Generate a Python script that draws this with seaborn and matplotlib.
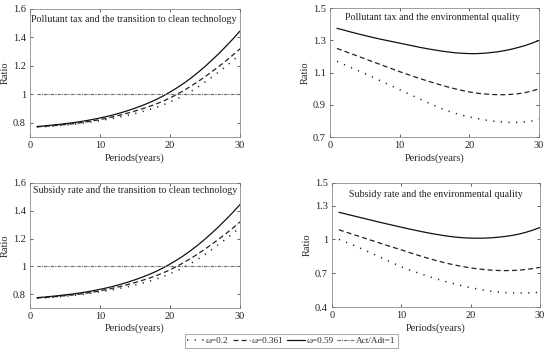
import numpy as np
import pandas as pd
import matplotlib
matplotlib.use("Agg")
import matplotlib.pyplot as plt
import seaborn as sns
from matplotlib.lines import Line2D

years = list(range(1, 31))

# Pollutant tax and the transition to clean technology
tax_tech_w059 = [0.774, 0.778, 0.783, 0.788, 0.794, 0.800, 0.807, 0.815, 0.824, 0.834,
                 0.845, 0.857, 0.871, 0.886, 0.903, 0.921, 0.941, 0.963, 0.988, 1.016,
                 1.046, 1.079, 1.115, 1.154, 1.196, 1.241, 1.288, 1.338, 1.390, 1.445]
tax_tech_w0361 = [0.772, 0.775, 0.779, 0.783, 0.788, 0.793, 0.799, 0.806, 0.814, 0.823,
                  0.833, 0.844, 0.856, 0.869, 0.883, 0.898, 0.914, 0.932, 0.952, 0.975,
                  1.000, 1.028, 1.058, 1.090, 1.124, 1.160, 1.197, 1.236, 1.277, 1.320]
tax_tech_w02 = [0.770, 0.773, 0.776, 0.780, 0.784, 0.789, 0.795, 0.801, 0.808, 0.816,
                0.824, 0.833, 0.843, 0.853, 0.865, 0.878, 0.892, 0.908, 0.926, 0.946,
                0.968, 0.993, 1.021, 1.052, 1.086, 1.122, 1.159, 1.198, 1.238, 1.280]

# Pollutant tax and the environmental quality
tax_env_w059 = [1.375, 1.364, 1.352, 1.341, 1.330, 1.320, 1.310, 1.301, 1.292, 1.283,
                1.274, 1.265, 1.256, 1.248, 1.241, 1.234, 1.228, 1.223, 1.220, 1.218,
                1.218, 1.220, 1.224, 1.229, 1.236, 1.245, 1.256, 1.268, 1.283, 1.300]
tax_env_w0361 = [1.250, 1.234, 1.218, 1.202, 1.186, 1.170, 1.154, 1.138, 1.122, 1.106,
                 1.091, 1.076, 1.062, 1.048, 1.035, 1.022, 1.010, 0.999, 0.989, 0.980,
                 0.973, 0.968, 0.965, 0.963, 0.963, 0.965, 0.969, 0.976, 0.986, 1.000]
tax_env_w02 = [1.170, 1.151, 1.132, 1.113, 1.094, 1.074, 1.054, 1.034, 1.014, 0.994,
               0.974, 0.954, 0.934, 0.914, 0.895, 0.877, 0.861, 0.847, 0.835, 0.825,
               0.816, 0.808, 0.801, 0.796, 0.793, 0.791, 0.791, 0.794, 0.800, 0.809]

# Subsidy rate and the transition to clean technology
sub_tech_w059 = [0.774, 0.778, 0.783, 0.788, 0.794, 0.800, 0.807, 0.815, 0.824, 0.834,
                 0.845, 0.857, 0.871, 0.886, 0.903, 0.921, 0.941, 0.963, 0.988, 1.016,
                 1.046, 1.079, 1.115, 1.154, 1.196, 1.241, 1.288, 1.338, 1.390, 1.445]
sub_tech_w0361 = [0.772, 0.775, 0.779, 0.783, 0.788, 0.793, 0.799, 0.806, 0.814, 0.823,
                  0.833, 0.844, 0.856, 0.869, 0.883, 0.898, 0.914, 0.932, 0.952, 0.975,
                  1.000, 1.028, 1.058, 1.090, 1.124, 1.160, 1.197, 1.236, 1.277, 1.320]
sub_tech_w02 = [0.770, 0.773, 0.776, 0.780, 0.784, 0.789, 0.795, 0.801, 0.808, 0.816,
                0.824, 0.833, 0.843, 0.853, 0.865, 0.878, 0.892, 0.908, 0.926, 0.946,
                0.968, 0.993, 1.021, 1.052, 1.086, 1.122, 1.159, 1.198, 1.238, 1.280]

# Subsidy rate and the environmental quality
sub_env_w059 = [1.240, 1.225, 1.210, 1.195, 1.180, 1.165, 1.150, 1.136, 1.122, 1.108,
                1.094, 1.081, 1.068, 1.056, 1.045, 1.035, 1.026, 1.019, 1.014, 1.011,
                1.010, 1.011, 1.014, 1.019, 1.026, 1.035, 1.047, 1.063, 1.082, 1.105]
sub_env_w0361 = [1.085, 1.065, 1.045, 1.025, 1.005, 0.985, 0.965, 0.945, 0.926, 0.907,
                 0.887, 0.867, 0.848, 0.830, 0.813, 0.797, 0.782, 0.769, 0.757, 0.747,
                 0.739, 0.732, 0.727, 0.724, 0.723, 0.724, 0.727, 0.733, 0.741, 0.752]
sub_env_w02 = [1.000, 0.975, 0.950, 0.924, 0.897, 0.869, 0.840, 0.812, 0.784, 0.757,
               0.733, 0.711, 0.690, 0.670, 0.651, 0.633, 0.616, 0.600, 0.585, 0.572,
               0.560, 0.549, 0.540, 0.533, 0.528, 0.525, 0.524, 0.525, 0.527, 0.531]

threshold = [1.0] * 30

labels = ["\u03c9=0.2", "\u03c9=0.361", "\u03c9=0.59", "Act/Adt=1"]
titles = ["Pollutant tax and the transition to clean technology",
          "Pollutant tax and the environmental quality",
          "Subsidy rate and the transition to clean technology",
          "Subsidy rate and the environmental quality"]

sns.set_style("ticks")
plt.rcParams["font.family"] = ["Liberation Serif", "DejaVu Serif"]

fig = plt.figure(figsize=(5.5, 3.56), dpi=100)

positions = [
    [0.0545, 0.615, 0.382, 0.360],
    [0.600, 0.615, 0.380, 0.362],
    [0.0545, 0.135, 0.382, 0.351],
    [0.6036, 0.1376, 0.378, 0.3484],
]
title_pos = [(0.495, 0.92), (0.49, 0.925), (0.5, 0.94), (0.498, 0.91)]

panels = [
    (tax_tech_w02, tax_tech_w0361, tax_tech_w059, True),
    (tax_env_w02, tax_env_w0361, tax_env_w059, False),
    (sub_tech_w02, sub_tech_w0361, sub_tech_w059, True),
    (sub_env_w02, sub_env_w0361, sub_env_w059, False),
]
ylims = [(0.7, 1.6), (0.7, 1.5), (0.7, 1.6), (0.4, 1.5)]
yticks = [[0.8, 1.0, 1.2, 1.4, 1.6], [0.7, 0.9, 1.1, 1.3, 1.5],
          [0.8, 1.0, 1.2, 1.4, 1.6], [0.4, 0.7, 1.0, 1.3, 1.5]]
ytlabels = [["0.8", "1", "1.2", "1.4", "1.6"], ["0.7", "0.9", "1.1", "1.3", "1.5"],
            ["0.8", "1", "1.2", "1.4", "1.6"], ["0.4", "0.7", "1", "1.3", "1.5"]]

styles = [
    dict(color="#222222", linestyle=(0, (0.8, 4.2)), linewidth=1.1),
    dict(color="#222222", linestyle=(0, (4, 2.5)), linewidth=0.9),
    dict(color="#111111", linestyle="-", linewidth=0.9),
    dict(color="#666666", linestyle=(0, (3, 1, 1, 1)), linewidth=0.8),
]

for i, (pos, (s02, s0361, s059, has_thr)) in enumerate(zip(positions, panels)):
    ax = fig.add_axes(pos)
    df = pd.DataFrame({"Periods": years, "w02": s02, "w0361": s0361, "w059": s059,
                       "thr": threshold})
    for key, st in zip(["w02", "w0361", "w059"], styles[:3]):
        sns.lineplot(data=df, x="Periods", y=key, ax=ax, **st)
    if has_thr:
        sns.lineplot(data=df, x="Periods", y="thr", ax=ax, **styles[3])
    ax.set_xlim(0, 30)
    ax.set_ylim(*ylims[i])
    ax.set_xticks([0, 10, 20, 30])
    ax.set_xticklabels(["0", "10", "20", "30"])
    ax.set_yticks(yticks[i])
    ax.set_yticklabels(ytlabels[i])
    ax.tick_params(direction="in", length=2.5, width=0.5, labelsize=7.5,
                   top=True, right=True, pad=3, colors="#222222")
    for sp in ax.spines.values():
        sp.set_linewidth(0.5)
        sp.set_color("#777777")
    ax.set_xlabel("Periods(years)", fontsize=7.5, labelpad=2)
    ax.set_ylabel("Ratio", fontsize=7.5, labelpad=2)
    ax.text(title_pos[i][0], title_pos[i][1], titles[i], transform=ax.transAxes,
            ha="center", va="center", fontsize=7.2, color="#222222")

leg_handles = [Line2D([], [], **st) for st in styles]
leg = fig.legend(leg_handles, labels, loc="center", bbox_to_anchor=(0.53, 0.042), ncol=4,
                 fontsize=6.6, frameon=True, fancybox=False, edgecolor="#888888",
                 handlelength=1.9, handletextpad=0.15, columnspacing=0.45, borderpad=0.3,
                 framealpha=1)
leg.get_frame().set_linewidth(0.5)

fig.savefig("out.png", dpi=100)
